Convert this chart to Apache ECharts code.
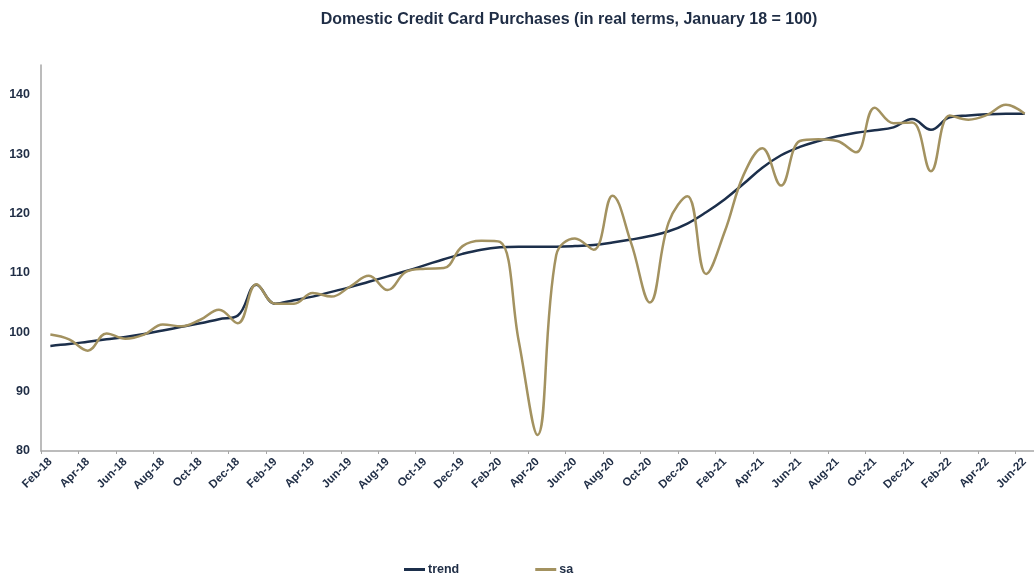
<!DOCTYPE html>
<html>
<head>
<meta charset="utf-8">
<script src="https://cdn.jsdelivr.net/npm/echarts@6/dist/echarts.min.js"></script>
<style>
  html, body { margin: 0; padding: 0; background: #ffffff; }
  #chart { width: 1034px; height: 575px; }
</style>
</head>
<body>
<div id="chart"></div>
<script>
// Monthly index, Feb-18 to Jun-22
const months = [
  'Feb-18','Mar-18','Apr-18','May-18','Jun-18','Jul-18','Aug-18','Sep-18','Oct-18','Nov-18','Dec-18','Jan-19',
  'Feb-19','Mar-19','Apr-19','May-19','Jun-19','Jul-19','Aug-19','Sep-19','Oct-19','Nov-19','Dec-19','Jan-20',
  'Feb-20','Mar-20','Apr-20','May-20','Jun-20','Jul-20','Aug-20','Sep-20','Oct-20','Nov-20','Dec-20','Jan-21',
  'Feb-21','Mar-21','Apr-21','May-21','Jun-21','Jul-21','Aug-21','Sep-21','Oct-21','Nov-21','Dec-21','Jan-22',
  'Feb-22','Mar-22','Apr-22','May-22','Jun-22'
];

const trend = [
  97.7, 98.0, 98.4, 98.8, 99.2, 99.7, 100.3, 100.9, 101.5, 102.2, 102.8, 108.0,
  104.8, 105.4, 106.0, 106.8, 107.6, 108.5, 109.4, 110.3, 111.3, 112.3, 113.2, 113.9,
  114.3, 114.4, 114.4, 114.4, 114.5, 114.7, 115.1, 115.6, 116.2, 117.0, 118.3, 120.2,
  122.4, 125.0, 127.7, 129.8, 131.2, 132.2, 133.0, 133.6, 134.0, 134.5, 135.9, 134.1,
  136.2, 136.5, 136.7, 136.8, 136.8
];

const sa = [
  99.6, 98.8, 96.9, 99.8, 98.9, 99.6, 101.3, 101.0, 102.1, 103.8, 101.5, 108.1,
  104.8, 104.8, 106.6, 106.0, 107.7, 109.5, 107.1, 110.2, 110.7, 110.8, 114.5, 115.4,
  115.2, 98.5, 82.7, 113.0, 115.8, 113.9, 123.0, 115.0, 105.0, 118.5, 122.9, 109.8,
  117.0, 126.5, 131.0, 124.7, 132.2, 132.5, 132.2, 130.3, 137.8, 135.2, 135.3, 127.1,
  136.5, 135.8, 136.6, 138.3, 136.8
];

const yTicks = [80, 90, 100, 110, 120, 130, 140];

const NAVY = '#1c2f4b';
const GOLD = '#a39260';
const TEXT = '#1f2d45';
const AXIS = '#a6a6a6';
const FONT = '"Liberation Sans", Arial, sans-serif';

const chart = echarts.init(document.getElementById('chart'), null, { renderer: 'canvas' });

chart.setOption({
  animation: false,
  backgroundColor: '#ffffff',
  title: {
    text: 'Domestic Credit Card Purchases (in real terms, January 18 = 100)',
    left: 564,
    top: 7,
    textAlign: 'center',
    textStyle: { fontFamily: FONT, fontSize: 16, fontWeight: 'bold', color: TEXT }
  },
  legend: {
    left: 399,
    top: 558,
    icon: 'rect',
    itemWidth: 21,
    itemHeight: 3,
    itemGap: 76,
    textStyle: { fontFamily: FONT, fontSize: 12.5, fontWeight: 'bold', color: TEXT, padding: [0, 0, 0, -2] },
    data: ['trend', 'sa']
  },
  grid: {
    left: 41,
    top: 65,
    width: 996,
    bottom: 124,
    containLabel: false
  },
  xAxis: {
    type: 'category',
    data: months,
    boundaryGap: true,
    axisLine: { lineStyle: { color: AXIS, width: 1.5 } },
    axisTick: { show: true, interval: 1, length: 3, lineStyle: { color: AXIS } },
    axisLabel: {
      interval: 1,
      rotate: 45,
      margin: 9,
      fontFamily: FONT,
      fontSize: 11.5,
      fontWeight: 'bold',
      color: TEXT
    },
    splitLine: { show: false }
  },
  yAxis: {
    type: 'value',
    min: 80,
    max: 145,
    interval: 10,
    axisLine: { show: true, lineStyle: { color: AXIS, width: 1.5 } },
    axisTick: { show: false },
    splitLine: { show: false },
    axisLabel: {
      margin: 11,
      fontFamily: FONT,
      fontSize: 12.5,
      fontWeight: 'bold',
      color: TEXT,
      formatter: v => (yTicks.indexOf(v) >= 0 ? String(v) : '')
    }
  },
  series: [
    {
      name: 'trend',
      type: 'line',
      data: trend,
      smooth: 0.4,
      showSymbol: false,
      symbol: 'none',
      lineStyle: { color: NAVY, width: 2.5 },
      itemStyle: { color: NAVY },
      z: 2
    },
    {
      name: 'sa',
      type: 'line',
      data: sa,
      smooth: 0.4,
      showSymbol: false,
      symbol: 'none',
      lineStyle: { color: GOLD, width: 2.5 },
      itemStyle: { color: GOLD },
      z: 3
    }
  ]
});
</script>
</body>
</html>
